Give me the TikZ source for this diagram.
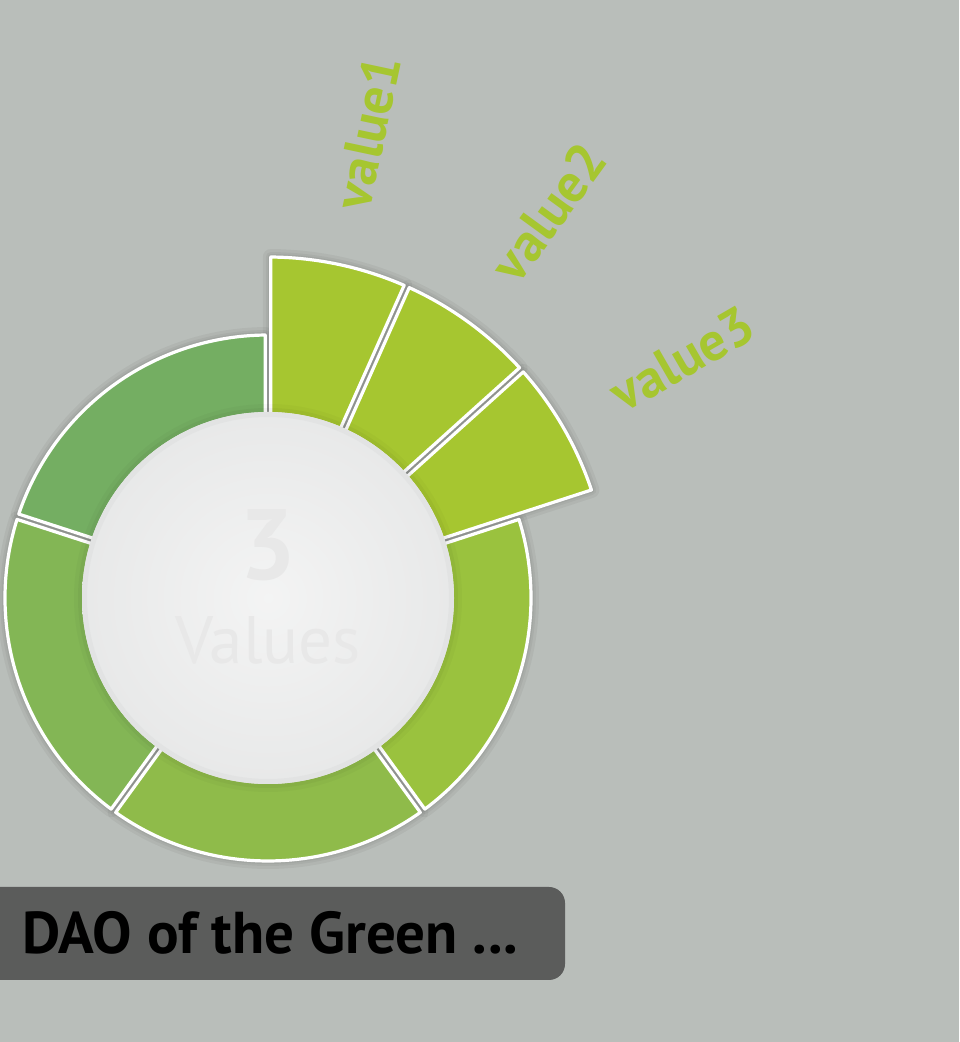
\documentclass[tikz,border=0pt]{standalone}
\usepackage{fontspec}
\setmainfont{PT Sans}
\definecolor{bg}{HTML}{B9BEBA}
\definecolor{cTL}{HTML}{74AE62}
\definecolor{cL}{HTML}{83B655}
\definecolor{cB}{HTML}{8FBB4A}
\definecolor{cR}{HTML}{9AC23E}
\definecolor{cV}{HTML}{A6C630}
\definecolor{boxc}{HTML}{5B5C5B}
\definecolor{ctext}{HTML}{E8E8E8}
\definecolor{rimc}{HTML}{E2E3E3}
\newcommand\ringseg[5]{% start, end, rin, rout, style
  \pgfmathsetmacro\aI{#1+asin(2.8/#3)}%
  \pgfmathsetmacro\aO{#1+asin(2.8/#4)}%
  \pgfmathsetmacro\bI{#2-asin(2.8/#3)}%
  \pgfmathsetmacro\bO{#2-asin(2.8/#4)}%
  \path[#5] (\aI:#3) arc[start angle=\aI, end angle=\bI, radius=#3]
     -- (\bO:#4) arc[start angle=\bO, end angle=\aO, radius=#4] -- cycle;
}
\tikzset{
  segshadow/.style={draw=black, draw opacity=0.045, line width=#1, line join=round},
  seg/.style={fill=#1, draw=white, line width=3.2, line join=round},
  vlabel/.style={text=cV, font=\bfseries\fontsize{54}{54}\selectfont, inner sep=0pt},
}
\begin{document}
\begin{tikzpicture}[x=1pt,y=1pt]
\fill[bg] (0,0) rectangle (959,1042);
\useasboundingbox (0,0) rectangle (959,1042);
\begin{scope}[shift={(268,444)}]
  % shadows
  \foreach \w in {16,10,6}{
    \ringseg{90}{162}{180}{263}{segshadow=\w}
    \ringseg{162}{234}{180}{263}{segshadow=\w}
    \ringseg{234}{306}{180}{263}{segshadow=\w}
    \ringseg{306}{378}{180}{263}{segshadow=\w}
    \ringseg{18}{42}{180}{341}{segshadow=\w}
    \ringseg{42}{66}{180}{341}{segshadow=\w}
    \ringseg{66}{90}{180}{341}{segshadow=\w}
  }
  % segments
  \ringseg{90}{162}{180}{263}{seg=cTL}
  \ringseg{162}{234}{180}{263}{seg=cL}
  \ringseg{234}{306}{180}{263}{seg=cB}
  \ringseg{306}{378}{180}{263}{seg=cR}
  \ringseg{18}{42}{180}{341}{seg=cV}
  \ringseg{42}{66}{180}{341}{seg=cV}
  \ringseg{66}{90}{180}{341}{seg=cV}
  % inner disc
  \fill[black, opacity=0.025] (0,0) circle (194);
  \fill[black, opacity=0.035] (0,0) circle (190);
  \shade[inner color=white!60!rimc, outer color=rimc!80!white] (0,0) circle (186);
  \draw[rimc, line width=5] (0,0) circle (183.5);
  \node[text=ctext, font=\bfseries\fontsize{100}{100}\selectfont, inner sep=0pt] (num) at (0,53) {3};
  \node[text=ctext, font=\fontsize{67}{67}\selectfont, inner sep=0pt] (lbl) at (0,-42) {Values};
  % labels
  \node[vlabel, rotate=78] (v1) at (78:476) {value1};
  \node[vlabel, rotate=54] (v2) at (54:477) {value2};
  \node[vlabel, rotate=30] (v3) at (30:478) {value3};
\end{scope}
\fill[boxc, rounded corners=16] (-30,62) rectangle (565,155);
\node[anchor=west, font=\bfseries\fontsize{59}{59}\selectfont, inner sep=0pt] (title) at (22,109) {DAO of the Green ...};
\end{tikzpicture}
\end{document}
